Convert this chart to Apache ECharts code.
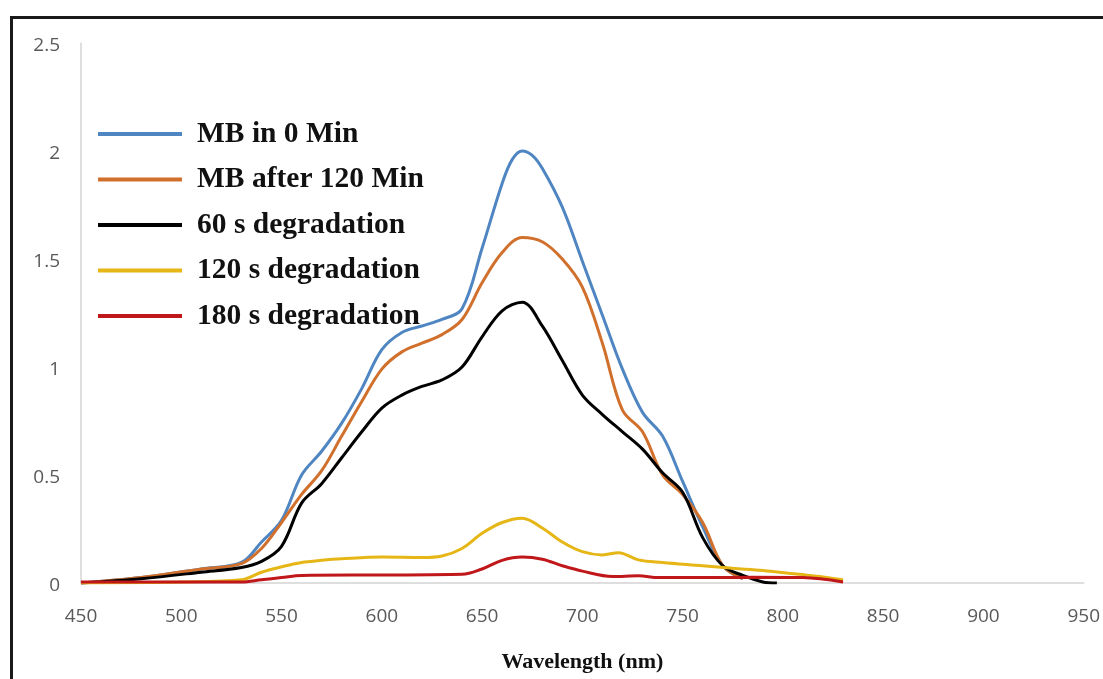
<!DOCTYPE html>
<html>
<head>
<meta charset="utf-8">
<script src="https://cdn.jsdelivr.net/npm/echarts@6/dist/echarts.min.js"></script>
<style>
  html, body { margin: 0; padding: 0; background: #fff; }
  #chart { width: 1103px; height: 679px; }
</style>
</head>
<body>
<div id="chart"></div>
<script>
// Absorbance spectra of methylene blue (MB) during degradation
const seriesNames = ['MB in 0 Min', 'MB after 120 Min', '60 s degradation', '120 s degradation', '180 s degradation'];
const seriesColors = ['#4f86c2', '#d0702c', '#000000', '#e5b616', '#c0171a'];

const wlMB0 = [450, 480, 510, 530, 540, 550, 560, 570, 580, 590, 600, 610, 620, 630, 640, 650, 660, 665, 670, 675, 680, 690, 700, 710, 720, 730, 740, 750, 760, 770, 780];
const absMB0 = [0.0, 0.025, 0.065, 0.095, 0.19, 0.29, 0.50, 0.61, 0.74, 0.90, 1.08, 1.16, 1.19, 1.22, 1.27, 1.55, 1.85, 1.96, 2.0, 1.98, 1.92, 1.74, 1.49, 1.24, 0.99, 0.79, 0.68, 0.47, 0.26, 0.08, 0.02];

const wlMB120 = [450, 480, 510, 530, 540, 550, 560, 570, 580, 590, 600, 610, 620, 630, 640, 650, 660, 670, 680, 690, 700, 710, 720, 730, 740, 750, 760, 770, 780];
const absMB120 = [0.0, 0.025, 0.065, 0.09, 0.16, 0.28, 0.41, 0.52, 0.68, 0.84, 0.99, 1.07, 1.11, 1.15, 1.22, 1.39, 1.53, 1.60, 1.58, 1.50, 1.37, 1.11, 0.80, 0.70, 0.50, 0.41, 0.28, 0.08, 0.02];

const wl60s = [450, 480, 510, 530, 540, 550, 560, 570, 580, 590, 600, 610, 620, 630, 640, 650, 660, 670, 680, 690, 700, 710, 720, 730, 740, 750, 760, 770, 780, 790, 797];
const abs60s = [0.0, 0.02, 0.05, 0.072, 0.10, 0.17, 0.37, 0.46, 0.58, 0.70, 0.81, 0.87, 0.91, 0.94, 1.0, 1.14, 1.26, 1.30, 1.19, 1.03, 0.87, 0.78, 0.70, 0.62, 0.51, 0.42, 0.21, 0.08, 0.035, 0.005, 0.0];

const wl120s = [450, 500, 530, 540, 550, 560, 570, 580, 600, 620, 630, 640, 650, 660, 670, 680, 690, 700, 710, 718, 728, 740, 760, 775, 790, 808, 820, 830];
const abs120s = [0.0, 0.005, 0.015, 0.05, 0.075, 0.095, 0.105, 0.112, 0.12, 0.118, 0.125, 0.16, 0.23, 0.28, 0.30, 0.255, 0.19, 0.145, 0.13, 0.14, 0.107, 0.095, 0.08, 0.068, 0.058, 0.04, 0.028, 0.015];

const wl180s = [450, 530, 540, 550, 560, 600, 640, 650, 660, 670, 680, 690, 700, 715, 728, 738, 760, 785, 810, 830];
const abs180s = [0.005, 0.005, 0.015, 0.025, 0.035, 0.037, 0.04, 0.065, 0.105, 0.12, 0.11, 0.08, 0.055, 0.03, 0.033, 0.025, 0.025, 0.027, 0.025, 0.005];

const xTicks = { min: 450, max: 950, interval: 50 };
const yTicks = { min: 0, max: 2.5, interval: 0.5 };

function pairs(xs, ys) { return xs.map((x, i) => [x, ys[i]]); }
const seriesData = [
  pairs(wlMB0, absMB0),
  pairs(wlMB120, absMB120),
  pairs(wl60s, abs60s),
  pairs(wl120s, abs120s),
  pairs(wl180s, abs180s)
];

const chart = echarts.init(document.getElementById('chart'), null, { renderer: 'canvas' });

const tickFont = {
  fontFamily: '"Open Sans", sans-serif',
  fontSize: 19,
  color: '#595959'
};

const option = {
  backgroundColor: '#ffffff',
  animation: false,
  graphic: [{
    type: 'rect',
    shape: { x: 11.5, y: 17.5, width: 1300, height: 900 },
    style: { fill: 'none', stroke: '#1a1a1a', lineWidth: 3 },
    silent: true,
    z: 100
  }],
  grid: { left: 81, right: 18, top: 43, bottom: 96 },
  legend: {
    orient: 'vertical',
    left: 93,
    top: 113,
    icon: 'rect',
    itemWidth: 84,
    itemHeight: 4,
    itemGap: 13.5,
    data: seriesNames,
    textStyle: {
      fontFamily: '"Liberation Serif", "Times New Roman", serif',
      fontWeight: 'bold',
      fontSize: 29.5,
      lineHeight: 32,
      color: '#111111',
      padding: [0, 0, 0, 10]
    }
  },
  xAxis: {
    type: 'value',
    min: xTicks.min,
    max: xTicks.max,
    interval: xTicks.interval,
    name: 'Wavelength (nm)',
    nameLocation: 'middle',
    nameGap: 68,
    nameTextStyle: {
      fontFamily: '"Liberation Serif", "Times New Roman", serif',
      fontWeight: 'bold',
      fontSize: 22,
      color: '#111111'
    },
    axisLine: { show: true, lineStyle: { color: '#d4d4d4', width: 1.5 } },
    axisTick: { show: false },
    splitLine: { show: false },
    axisLabel: Object.assign({ margin: 24 }, tickFont)
  },
  yAxis: {
    type: 'value',
    min: yTicks.min,
    max: yTicks.max,
    interval: yTicks.interval,
    axisLine: { show: true, lineStyle: { color: '#d4d4d4', width: 1.5 } },
    axisTick: { show: false },
    splitLine: { show: false },
    axisLabel: Object.assign({
      margin: 21,
      formatter: v => '{t|' + v + '}',
      rich: { t: Object.assign({ padding: [6, 0, 0, 0] }, tickFont) }
    }, tickFont)
  },
  series: seriesNames.map((name, i) => ({
    name: name,
    type: 'line',
    data: seriesData[i],
    smooth: 0.35,
    symbol: 'none',
    color: seriesColors[i],
    lineStyle: { color: seriesColors[i], width: 3 },
    z: 2 + i
  }))
};

chart.setOption(option);
</script>
</body>
</html>
